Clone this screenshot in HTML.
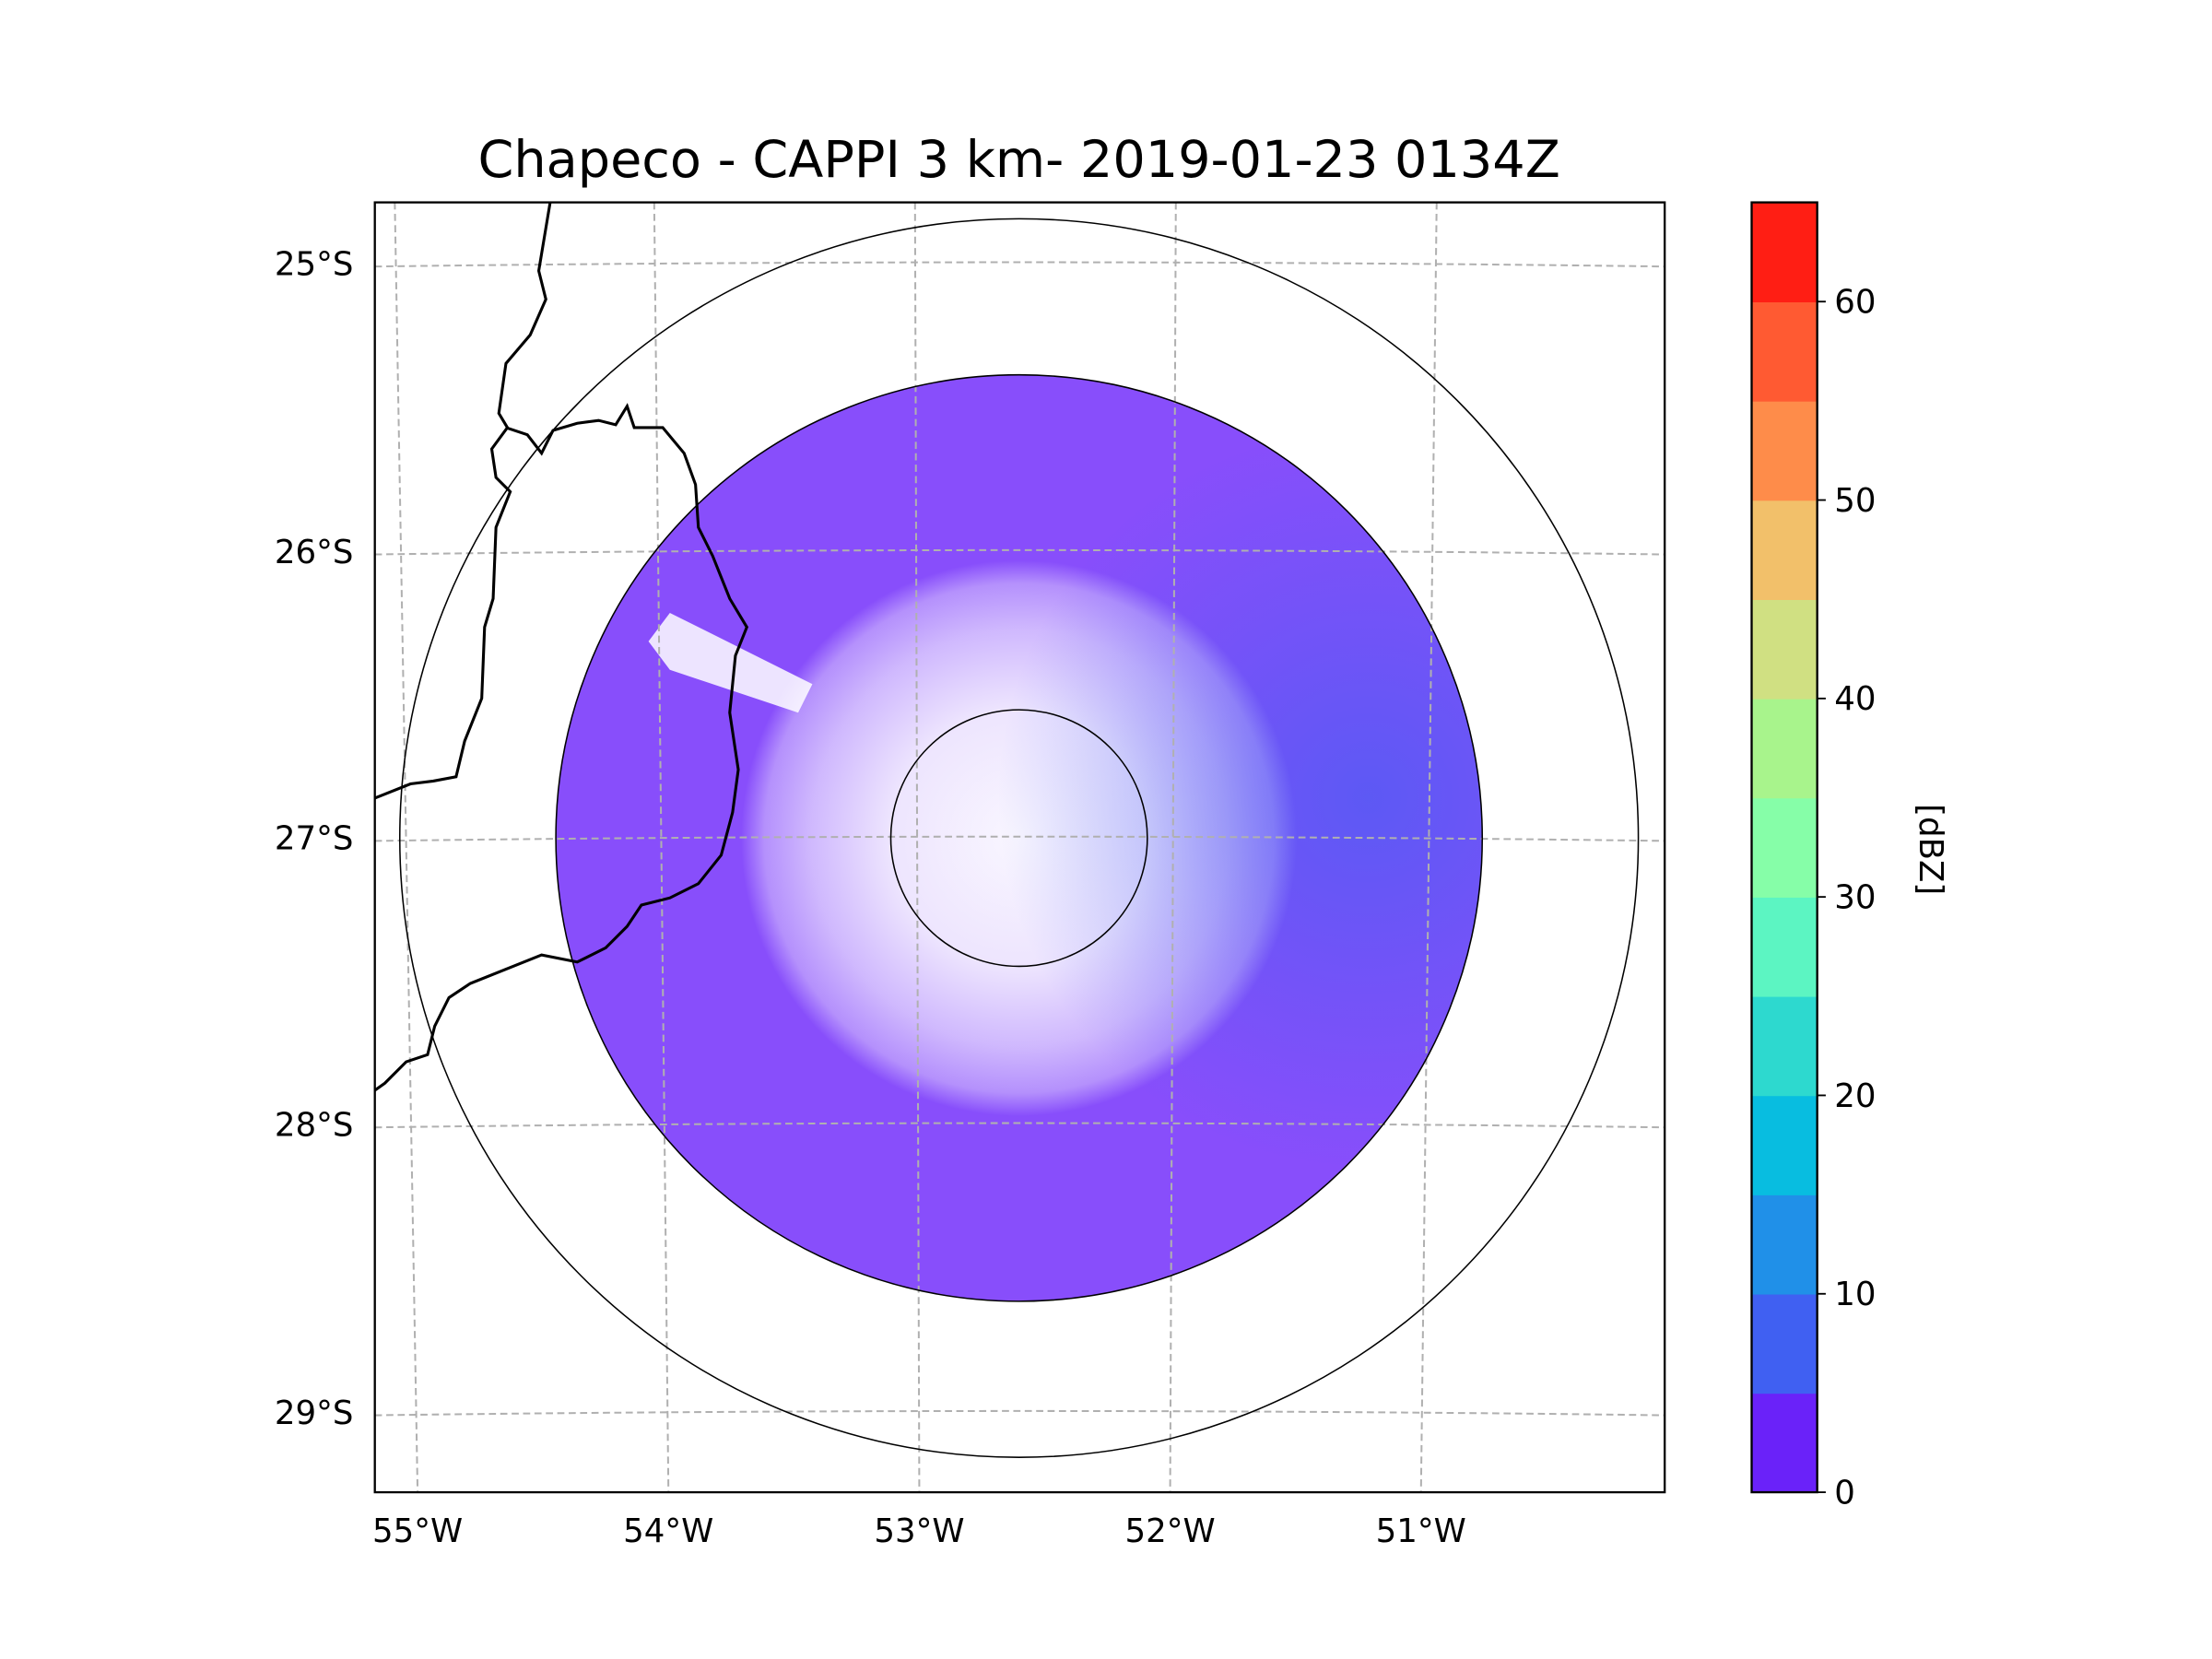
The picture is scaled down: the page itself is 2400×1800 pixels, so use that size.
<!DOCTYPE html>
<html><head><meta charset="utf-8"><style>
html,body{margin:0;padding:0;background:#fff;}
svg{display:block;font-family:"DejaVu Sans","Liberation Sans",sans-serif;}
</style></head><body>
<svg id="fig" width="2400" height="1800" viewBox="0 0 1552 1164" xmlns="http://www.w3.org/2000/svg">
<defs>
<clipPath id="axclip"><rect x="263" y="142" width="905" height="905"/></clipPath>
<radialGradient id="rg" cx="715" cy="588" r="325" gradientUnits="userSpaceOnUse">
<stop offset="0" stop-color="#6a22fa" stop-opacity="0.04"/>
<stop offset="0.28" stop-color="#6a22fa" stop-opacity="0.12"/>
<stop offset="0.45" stop-color="#6a22fa" stop-opacity="0.32"/>
<stop offset="0.55" stop-color="#6a22fa" stop-opacity="0.5"/>
<stop offset="0.6" stop-color="#6a22fa" stop-opacity="0.8"/>
<stop offset="1" stop-color="#6a22fa" stop-opacity="0.8"/>
</radialGradient>
<radialGradient id="blue" cx="960" cy="560" r="260" gradientUnits="userSpaceOnUse">
<stop offset="0" stop-color="#4060f0" stop-opacity="0.6"/>
<stop offset="1" stop-color="#4060f0" stop-opacity="0"/>
</radialGradient>
<clipPath id="radclip"><circle cx="715" cy="588" r="325"/></clipPath>
</defs>
<text x="715" y="124" font-size="36" text-anchor="middle" fill="#000">Chapeco - CAPPI 3 km- 2019-01-23 0134Z</text>
<g id="plot" clip-path="url(#axclip)">
<g clip-path="url(#radclip)">
<circle cx="715" cy="588" r="325" fill="url(#rg)"/>
<circle cx="715" cy="588" r="325" fill="url(#blue)"/>
<polygon points="455,450 470,430 570,480 560,500 470,470" fill="#fff" opacity="0.85"/>
<polygon points="385,430 440,410 400,470 385,470" fill="#fff" opacity="0.8"/>
</g>
<g id="grid"></g>
<circle cx="715" cy="588" r="90" fill="none" stroke="#000" stroke-width="1"/>
<circle cx="715" cy="588" r="325" fill="none" stroke="#000" stroke-width="1"/>
<circle cx="715" cy="588" r="434.5" fill="none" stroke="#000" stroke-width="1"/>
<path fill="none" stroke="#000" stroke-width="2" d="M386,142 L378,190 L383,210 L372,235 L355,255 L350,290 L356,300 L345,315 L348,335 L358,345 L348,370 L346,420 L340,440 L338,490 L326,520 L320,545 L304,548 L288,550 L263,560"/>
<path fill="none" stroke="#000" stroke-width="2" d="M355,300 L370,305 L380,318 L388,302 L405,297 L420,295 L432,298 L440,285 L445,300 L465,300 L480,318 L488,340 L490,370 L500,390 L512,420 L524,440 L516,460 L512,500 L518,540 L514,570 L506,600 L490,620 L470,630 L450,635 L440,650 L425,665 L405,675 L380,670 L355,680 L330,690 L315,700 L305,720 L300,740 L285,745 L270,760 L263,765"/>
</g>
<rect x="263" y="142" width="905" height="905" fill="none" stroke="#000" stroke-width="1.5"/>
<g id="ticks"></g>
<g id="cbar"></g>
<text x="0" y="0" font-size="23" text-anchor="middle" transform="translate(1347,596) rotate(90)">[dBZ]</text>
</svg>
<script>
var latLabels=["25°S","26°S","27°S","28°S","29°S"];
var latY=[185,387,588,789,991];
var lonLabels=["55°W","54°W","53°W","52°W","51°W"];
var lonTop=[277,459,642,825,1008];
var lonBottom=[293,469,645,821,997];
var levels=[0,5,10,15,20,25,30,35,40,45,50,55,60,65];
var levelColors=["#6a22f9","#4060f2","#2090e8","#08bde0","#2dd9cf","#5cf5c2","#86fea8","#a8f48c","#d0e082","#f2c06a","#fe8c4a","#ff5a32","#ff1e14"];
var cbTicks=[0,10,20,30,40,50,60];
var NS="http://www.w3.org/2000/svg";
function mk(t,a,p){var e=document.createElementNS(NS,t);for(var k in a)e.setAttribute(k,a[k]);p.appendChild(e);return e;}
var grid=document.getElementById('grid'),ticks=document.getElementById('ticks'),cb=document.getElementById('cbar');
latY.forEach(function(y,i){
 var p=mk('path',{d:'M263,'+(y+2)+' Q715,'+(y-4)+' 1168,'+(y+2),fill:'none',stroke:'#b0b0b0','stroke-width':1.3,'stroke-dasharray':'5,3'},grid);
 
 
 var t=mk('text',{x:248,y:y+8,'font-size':23,'text-anchor':'end'},ticks);t.textContent=latLabels[i];
 
 
});
lonTop.forEach(function(x,i){
 var p=mk('line',{x1:x,y1:142,x2:lonBottom[i],y2:1047,stroke:'#b0b0b0','stroke-width':1.3,'stroke-dasharray':'5,3'},grid);
 
 
 var t=mk('text',{x:lonBottom[i],y:1082,'font-size':23,'text-anchor':'middle'},ticks);t.textContent=lonLabels[i];
 
 
});
var cbX=1229,cbW=46,cbTop=142,cbBot=1047;
function cy(v){return cbBot-(v-levels[0])/(levels[levels.length-1]-levels[0])*(cbBot-cbTop);}
for(var i=0;i<levelColors.length;i++){
 var r=mk('rect',{x:cbX,y:cy(levels[i+1]),width:cbW,height:cy(levels[i])-cy(levels[i+1])+0.5,fill:levelColors[i]},cb);
 
 
}
var fr=mk('rect',{x:cbX,y:cbTop,width:cbW,height:cbBot-cbTop,fill:'none',stroke:'#000','stroke-width':1.5},cb);


cbTicks.forEach(function(v){
 var y=cy(v);
 var l=mk('line',{x1:cbX+cbW,y1:y,x2:cbX+cbW+6,y2:y,stroke:'#000','stroke-width':1.2},cb);
 
 
 var t=mk('text',{x:cbX+cbW+12,y:y+8,'font-size':23},cb);t.textContent=v;
 
 
});
</script>
</body></html>
